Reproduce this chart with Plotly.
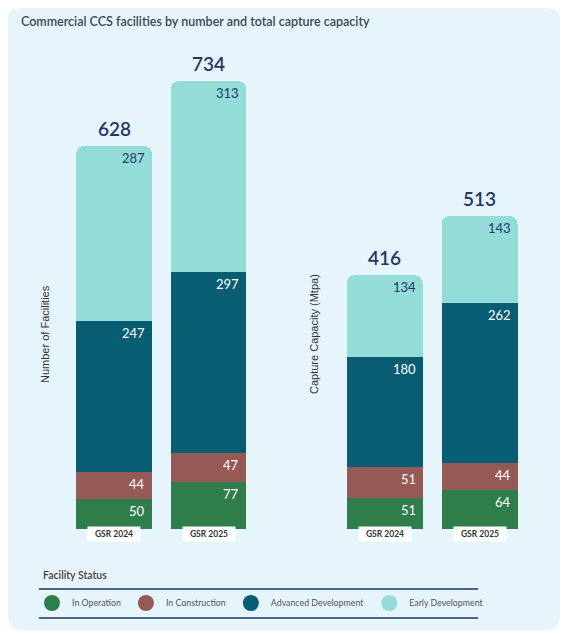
import plotly.graph_objects as go

W, H = 568, 636
OFF = 8  # page body margin: the figure is drawn 8px right and down

# Data
reports = ["GSR 2024", "GSR 2025"]
statuses = ["In Operation", "In Construction", "Advanced Development", "Early Development"]
facilities = {
    "In Operation": [50, 77],
    "In Construction": [44, 47],
    "Advanced Development": [247, 297],
    "Early Development": [287, 313],
}
capacity = {
    "In Operation": [51, 64],
    "In Construction": [51, 44],
    "Advanced Development": [180, 262],
    "Early Development": [134, 143],
}

COLORS = {
    "In Operation": "#2f7d4b",
    "In Construction": "#955a56",
    "Advanced Development": "#085d73",
    "Early Development": "#93dcd8",
}
LABEL_COLORS = {
    "In Operation": "white",
    "In Construction": "white",
    "Advanced Development": "white",
    "Early Development": "#1f3868",
}
NAVY = "#1f3868"
CARD_BG = "#e6f4fb"
FONT = "Lato"


def px_x(x):
    return max(x - OFF, 0) / W


def px_y(y):
    return 1 - max(y - OFF, 0) / H


def rounded_rect(x0, y0, x1, y1, r):
    """SVG path (paper coords) for a rounded rectangle given in pixels."""
    pts = [
        f"M {px_x(x0 + r)},{px_y(y0)}",
        f"L {px_x(x1 - r)},{px_y(y0)}",
        f"Q {px_x(x1)},{px_y(y0)} {px_x(x1)},{px_y(y0 + r)}",
        f"L {px_x(x1)},{px_y(y1 - r)}",
        f"Q {px_x(x1)},{px_y(y1)} {px_x(x1 - r)},{px_y(y1)}",
        f"L {px_x(x0 + r)},{px_y(y1)}",
        f"Q {px_x(x0)},{px_y(y1)} {px_x(x0)},{px_y(y1 - r)}",
        f"L {px_x(x0)},{px_y(y0 + r)}",
        f"Q {px_x(x0)},{px_y(y0)} {px_x(x0 + r)},{px_y(y0)}",
        "Z",
    ]
    return " ".join(pts)


fig = go.Figure()
annotations = []

panels = [(facilities, "x", "y"), (capacity, "x2", "y2")]
for data, xa, ya in panels:
    cum = [0] * len(reports)
    for s in statuses:
        vals = data[s]
        fig.add_trace(go.Bar(
            x=reports, y=vals, name=s, marker_color=COLORS[s],
            marker_line_width=0, xaxis=xa, yaxis=ya, showlegend=False,
            hoverinfo="skip",
        ))
        for i, v in enumerate(vals):
            cum[i] += v
            annotations.append(dict(
                x=i + 0.4, y=cum[i], xref=xa, yref=ya, text=str(v),
                xanchor="right", yanchor="top", xshift=-5, yshift=-2,
                showarrow=False,
                font=dict(family=FONT, size=13, color=LABEL_COLORS[s]),
            ))
    for i, total in enumerate(cum):
        annotations.append(dict(
            x=i, y=total, xref=xa, yref=ya, text=str(total),
            xanchor="center", yanchor="bottom", yshift=4, showarrow=False,
            font=dict(family=FONT, size=19, color=NAVY, weight=600),
        ))
    for i, r in enumerate(reports):
        annotations.append(dict(
            x=i, y=px_y(542), xref=xa, yref="paper", text=r,
            showarrow=False, bgcolor="white", width=50, height=12, borderpad=1,
            font=dict(family=FONT, size=8.5, color="#333333", weight=700),
        ))

# legend entries
for s in statuses:
    fig.add_trace(go.Scatter(
        x=[None], y=[None], mode="markers", name=s,
        marker=dict(color=COLORS[s], size=16, symbol="circle"),
        showlegend=True,
    ))

annotations += [
    dict(x=px_x(19), y=px_y(21), xref="paper", yref="paper",
         text="Commercial CCS facilities by number and total capture capacity",
         xanchor="left", yanchor="middle", showarrow=False,
         font=dict(family=FONT, size=12.5, color="#3d4656", weight=600)),
    dict(x=px_x(37), y=px_y(334), xref="paper", yref="paper",
         text="Number of Facilities", textangle=-90, showarrow=False,
         font=dict(family="Liberation Sans", size=11, color="#333333")),
    dict(x=px_x(314), y=px_y(334), xref="paper", yref="paper",
         text="Capture Capacity (Mtpa)", textangle=-90, showarrow=False,
         font=dict(family="Liberation Sans", size=11, color="#333333")),
    dict(x=px_x(41), y=px_y(575), xref="paper", yref="paper",
         text="Facility Status", xanchor="left", yanchor="middle", showarrow=False,
         font=dict(family=FONT, size=10.5, color="#4a4038", weight=600)),
]

shapes = [
    dict(type="path", path=rounded_rect(6, 3, 560, 630, 15), xref="paper", yref="paper",
         fillcolor=CARD_BG, line=dict(width=0), layer="below"),
    dict(type="line", x0=px_x(39), x1=px_x(478), y0=px_y(589), y1=px_y(589),
         xref="paper", yref="paper", line=dict(color="#1e3563", width=1.5)),
    dict(type="line", x0=px_x(39), x1=px_x(478), y0=px_y(618), y1=px_y(618),
         xref="paper", yref="paper", line=dict(color="#1e3563", width=1.5)),
]

axis_common = dict(showgrid=False, zeroline=False, showticklabels=False,
                   ticks="", showline=False, fixedrange=True)
y_dom = [px_y(529), px_y(41)]

fig.update_layout(
    width=W, height=H,
    margin=dict(l=0, r=0, t=0, b=0),
    paper_bgcolor="white",
    plot_bgcolor="rgba(0,0,0,0)",
    barmode="stack",
    bargap=0.2,
    barcornerradius=8,
    xaxis=dict(domain=[px_x(66.75), px_x(255.75)], type="category", **axis_common),
    yaxis=dict(domain=y_dom, range=[0, 800], **axis_common),
    xaxis2=dict(domain=[px_x(337), px_x(527)], type="category", anchor="y2", **axis_common),
    yaxis2=dict(domain=y_dom, range=[0, 800], anchor="x2", **axis_common),
    legend=dict(
        orientation="h", x=px_x(32), y=px_y(603), xanchor="left", yanchor="middle",
        font=dict(family=FONT, size=8.8, color="#555555"),
        bgcolor="rgba(0,0,0,0)", itemsizing="trace", traceorder="normal",
    ),
    annotations=annotations,
    shapes=shapes,
)

fig.write_html("out.html")
